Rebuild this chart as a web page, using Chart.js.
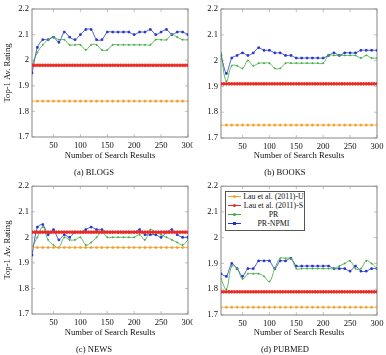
<!DOCTYPE html>
<html>
<head>
<meta charset="utf-8">
<script src="https://cdn.jsdelivr.net/npm/chart.js@4/dist/chart.umd.min.js"></script>
<style>
  html, body { margin:0; padding:0; background:#fff; }
  #wrap { position:relative; width:386px; height:355px; overflow:hidden; background:#fff; }
  .panel { position:absolute; overflow:hidden; }
  .panel canvas { position:absolute; left:0; top:0; }
  #legend { position:absolute; left:225px; top:191px; width:80px; height:40px; border:0.8px solid #555;
            background:#fff; font-family:"Liberation Serif", serif; font-size:7.9px; color:#111; box-sizing:border-box; }
  .lrow { position:absolute; left:0; width:100%; height:9px; line-height:9px; }
  .lline { position:absolute; left:1.5px; width:13px; top:4px; height:0; border-top:1px solid; }
  .ldot { position:absolute; left:6.5px; top:3px; width:3px; height:3px; border-radius:50%; }
  .ltext { position:absolute; left:17px; right:0px; text-align:center; white-space:nowrap; }
</style>
</head>
<body>
<div id="wrap">
  <div class="panel" style="left:0;top:0;width:193px;height:178px"><canvas id="cA" width="210" height="179"></canvas></div>
  <div class="panel" style="left:193px;top:0;width:193px;height:178px"><canvas id="cB" width="210" height="179"></canvas></div>
  <div class="panel" style="left:0;top:178px;width:193px;height:177px"><canvas id="cC" width="210" height="178"></canvas></div>
  <div class="panel" style="left:193px;top:178px;width:193px;height:177px"><canvas id="cD" width="210" height="178"></canvas></div>
  <div id="legend"></div>
</div>
<script>
// ---------------- DATA ----------------
const seriesNames = ["Lau et al. (2011)-U", "Lau et al. (2011)-S", "PR", "PR-NPMI"];
const xTicks = [50, 100, 150, 200, 250, 300];
const yTicks = [1.7, 1.8, 1.9, 2, 2.1, 2.2];
const yTickLabels = ["1.7", "1.8", "1.9", "2", "2.1", "2.2"];
const xTitle = "Number of Search Results";
const yTitle = "Top-1 Av. Rating";
const captions = ["(a) BLOGS", "(b) BOOKS", "(c) NEWS", "(d) PUBMED"];

const xs = [10,20,30,40,50,60,70,80,90,100,110,120,130,140,150,160,170,180,190,200,210,220,230,240,250,260,270,280,290,300];
const xsFine = [10,15,20,25,30,35,40,45,50,55,60,65,70,75,80,85,90,95,100,105,110,115,120,125,130,135,140,145,150,155,160,165,170,175,180,185,190,195,200,205,210,215,220,225,230,235,240,245,250,255,260,265,270,275,280,285,290,295,300];

// BLOGS
const blogsU = [1.84,1.84,1.84,1.84,1.84,1.84,1.84,1.84,1.84,1.84,1.84,1.84,1.84,1.84,1.84,1.84,1.84,1.84,1.84,1.84,1.84,1.84,1.84,1.84,1.84,1.84,1.84,1.84,1.84,1.84];
const blogsS = [1.98,1.98,1.98,1.98,1.98,1.98,1.98,1.98,1.98,1.98,
                1.98,1.98,1.98,1.98,1.98,1.98,1.98,1.98,1.98,1.98,
                1.98,1.98,1.98,1.98,1.98,1.98,1.98,1.98,1.98,1.98,
                1.98,1.98,1.98,1.98,1.98,1.98,1.98,1.98,1.98,1.98,
                1.98,1.98,1.98,1.98,1.98,1.98,1.98,1.98,1.98,1.98,
                1.98,1.98,1.98,1.98,1.98,1.98,1.98,1.98,1.98];
const blogsPR = [1.98,2.03,2.06,2.08,2.09,2.08,2.08,2.06,2.06,2.06,2.04,2.06,2.06,2.04,2.04,2.06,2.06,2.06,2.06,2.06,2.06,2.06,2.06,2.08,2.08,2.08,2.10,2.09,2.08,2.08];
const blogsNPMI = [1.95,2.05,2.08,2.08,2.09,2.07,2.11,2.09,2.08,2.10,2.12,2.12,2.08,2.08,2.11,2.11,2.11,2.11,2.11,2.10,2.11,2.11,2.12,2.10,2.11,2.12,2.10,2.11,2.11,2.10];

// BOOKS
const booksU = [1.75,1.75,1.75,1.75,1.75,1.75,1.75,1.75,1.75,1.75,1.75,1.75,1.75,1.75,1.75,1.75,1.75,1.75,1.75,1.75,1.75,1.75,1.75,1.75,1.75,1.75,1.75,1.75,1.75,1.75];
const booksS = [1.91,1.91,1.91,1.91,1.91,1.91,1.91,1.91,1.91,1.91,
                1.91,1.91,1.91,1.91,1.91,1.91,1.91,1.91,1.91,1.91,
                1.91,1.91,1.91,1.91,1.91,1.91,1.91,1.91,1.91,1.91,
                1.91,1.91,1.91,1.91,1.91,1.91,1.91,1.91,1.91,1.91,
                1.91,1.91,1.91,1.91,1.91,1.91,1.91,1.91,1.91,1.91,
                1.91,1.91,1.91,1.91,1.91,1.91,1.91,1.91,1.91];
const booksPR = [2.03,1.92,1.98,1.98,1.97,2.00,1.98,1.99,1.99,1.99,1.97,1.97,1.99,1.99,1.99,1.99,1.99,1.99,1.99,1.99,2.02,2.02,2.02,2.02,2.02,2.02,2.01,2.02,2.01,2.01];
const booksNPMI = [2.02,1.95,2.01,2.02,2.03,2.02,2.03,2.05,2.04,2.04,2.03,2.03,2.02,2.02,2.01,2.01,2.01,2.01,2.01,2.01,2.02,2.03,2.02,2.03,2.03,2.03,2.04,2.04,2.04,2.04];

// NEWS
const newsU = [1.96,1.96,1.96,1.96,1.96,1.96,1.96,1.96,1.96,1.96,1.96,1.96,1.96,1.96,1.96,1.96,1.96,1.96,1.96,1.96,1.96,1.96,1.96,1.96,1.96,1.96,1.96,1.96,1.96,1.96];
const newsS = [2.02,2.02,2.02,2.02,2.02,2.02,2.02,2.02,2.02,2.02,
               2.02,2.02,2.02,2.02,2.02,2.02,2.02,2.02,2.02,2.02,
               2.02,2.02,2.02,2.02,2.02,2.02,2.02,2.02,2.02,2.02,
               2.02,2.02,2.02,2.02,2.02,2.02,2.02,2.02,2.02,2.02,
               2.02,2.02,2.02,2.02,2.02,2.02,2.02,2.02,2.02,2.02,
               2.02,2.02,2.02,2.02,2.02,2.02,2.02,2.02,2.02];
const newsPR = [1.96,2.00,2.04,1.99,1.97,1.96,2.00,1.99,1.99,2.00,1.97,1.98,2.00,2.02,2.00,2.00,2.00,2.00,2.00,2.00,2.01,1.99,2.03,2.02,2.01,2.00,1.99,1.98,1.97,1.99];
const newsNPMI = [1.93,2.04,2.05,2.01,2.03,1.99,2.01,2.00,2.02,2.02,2.03,2.04,2.03,2.03,2.02,2.02,2.02,2.02,2.02,2.02,2.03,2.01,2.01,2.01,2.00,2.02,2.03,2.01,2.00,2.00];

// PUBMED
const pubmedU = [1.73,1.73,1.73,1.73,1.73,1.73,1.73,1.73,1.73,1.73,1.73,1.73,1.73,1.73,1.73,1.73,1.73,1.73,1.73,1.73,1.73,1.73,1.73,1.73,1.73,1.73,1.73,1.73,1.73,1.73];
const pubmedS = [1.79,1.79,1.79,1.79,1.79,1.79,1.79,1.79,1.79,1.79,
                 1.79,1.79,1.79,1.79,1.79,1.79,1.79,1.79,1.79,1.79,
                 1.79,1.79,1.79,1.79,1.79,1.79,1.79,1.79,1.79,1.79,
                 1.79,1.79,1.79,1.79,1.79,1.79,1.79,1.79,1.79,1.79,
                 1.79,1.79,1.79,1.79,1.79,1.79,1.79,1.79,1.79,1.79,
                 1.79,1.79,1.79,1.79,1.79,1.79,1.79,1.79,1.79];
const pubmedPR = [1.84,1.80,1.89,1.88,1.84,1.86,1.86,1.86,1.85,1.83,1.88,1.92,1.92,1.92,1.88,1.88,1.88,1.88,1.88,1.88,1.88,1.88,1.89,1.90,1.91,1.88,1.88,1.91,1.90,1.88];
const pubmedNPMI = [1.86,1.85,1.90,1.88,1.85,1.88,1.88,1.91,1.91,1.91,1.88,1.91,1.91,1.92,1.89,1.89,1.89,1.89,1.89,1.89,1.89,1.88,1.88,1.88,1.87,1.89,1.87,1.87,1.88,1.88];

// ---------------- STYLE ----------------
const FONT = "'Liberation Serif', 'Times New Roman', serif";
const colors = { U: "#f59e2a", S: "#ea2a22", PR: "#3faa3f", NPMI: "#2233cc" };

const frameAndTicks = {
  id: "frameAndTicks",
  beforeDatasetsDraw(chart) {
    const { ctx, chartArea: a, scales: { x, y } } = chart;
    ctx.save();
    ctx.strokeStyle = "#666";
    ctx.lineWidth = 0.8;
    ctx.strokeRect(a.left, a.top, a.right - a.left, a.bottom - a.top);
    ctx.strokeStyle = "#999";
    ctx.lineWidth = 0.6;
    ctx.beginPath();
    x.ticks.forEach(t => {
      const px = x.getPixelForValue(t.value);
      ctx.moveTo(px, a.bottom); ctx.lineTo(px, a.bottom - 3);
      ctx.moveTo(px, a.top); ctx.lineTo(px, a.top + 3);
    });
    y.ticks.forEach(t => {
      const py = y.getPixelForValue(t.value);
      ctx.moveTo(a.left, py); ctx.lineTo(a.left + 3, py);
      ctx.moveTo(a.right, py); ctx.lineTo(a.right - 3, py);
    });
    ctx.stroke();
    ctx.restore();
  }
};

function pts(xv, yv) { return xv.map((v, i) => ({ x: v, y: yv[i] })); }

function makePanel(id, caption, u, s, pr, npmi, geo) {
  const canvas = document.getElementById(id);
  return new Chart(canvas, {
    type: "line",
    data: {
      datasets: [
        { label: seriesNames[0], data: pts(xs, u), borderColor: colors.U, backgroundColor: colors.U,
          borderWidth: 0.7, pointRadius: 1.1, pointStyle: "circle", tension: 0 },
        { label: seriesNames[1], data: pts(xsFine, s), borderColor: colors.S, backgroundColor: colors.S,
          borderWidth: 0.8, pointRadius: 1.4, pointStyle: "circle", tension: 0 },
        { label: seriesNames[2], data: pts(xs, pr), borderColor: colors.PR, backgroundColor: colors.PR,
          borderWidth: 0.8, pointRadius: 0.6, pointStyle: "circle", tension: 0.4 },
        { label: seriesNames[3], data: pts(xs, npmi), borderColor: colors.NPMI, backgroundColor: colors.NPMI,
          borderWidth: 0.8, pointRadius: 1.2, pointStyle: "rect", tension: 0.25 }
      ]
    },
    options: {
      responsive: false,
      animation: false,
      devicePixelRatio: 1,
      layout: { padding: { left: 0, right: geo.right, top: geo.top, bottom: 0 } },
      plugins: {
        legend: { display: false },
        tooltip: { enabled: false },
        title: { display: true, position: "bottom", text: caption, color: "#111",
                 font: { family: FONT, size: 8.6, weight: "normal" }, padding: { top: 0, bottom: 1 } }
      },
      scales: {
        x: {
          type: "linear", min: 10, max: 300,
          grid: { display: false, drawTicks: false },
          border: { display: false },
          afterBuildTicks: sc => { sc.ticks = xTicks.map(v => ({ value: v })); },
          afterFit: sc => { sc.height = geo.xh; },
          ticks: { color: "#111", font: { family: FONT, size: 8.6 }, padding: 4, maxRotation: 0, autoSkip: false },
          title: { display: true, text: xTitle, color: "#111", font: { family: FONT, size: 8.6 },
                   padding: { top: 0, bottom: 7 } }
        },
        y: {
          min: 1.7, max: 2.2,
          grid: { display: false, drawTicks: false },
          border: { display: false },
          afterBuildTicks: sc => { sc.ticks = yTicks.map(v => ({ value: v })); },
          afterFit: sc => { sc.width = geo.left; },
          ticks: { color: "#111", font: { family: FONT, size: 8.6 }, padding: 3, autoSkip: false,
                   callback: (v) => yTickLabels[yTicks.indexOf(v)] },
          title: { display: geo.ytitle, text: yTitle, color: "#111", font: { family: FONT, size: 8.6 },
                   padding: { top: 3, bottom: 0 } }
        }
      }
    },
    plugins: [frameAndTicks]
  });
}

makePanel("cA", captions[0], blogsU, blogsS, blogsPR, blogsNPMI, { left: 32, right: 22, top: 9, xh: 30.68, ytitle: true });
makePanel("cB", captions[1], booksU, booksS, booksPR, booksNPMI, { left: 28, right: 26, top: 9, xh: 29.68, ytitle: false });
makePanel("cC", captions[2], newsU, newsS, newsPR, newsNPMI, { left: 32, right: 22, top: 6, xh: 30.68, ytitle: true });
const chartD = makePanel("cD", captions[3], pubmedU, pubmedS, pubmedPR, pubmedNPMI, { left: 28, right: 26, top: 7, xh: 29.68, ytitle: false });

// HTML legend built from the chart's datasets
const legend = document.getElementById("legend");
chartD.data.datasets.forEach((ds, i) => {
  const row = document.createElement("div");
  row.className = "lrow";
  row.style.top = (-0.5 + i * 9.2) + "px";
  const line = document.createElement("span");
  line.className = "lline";
  line.style.borderColor = ds.borderColor;
  const dot = document.createElement("span");
  dot.className = "ldot";
  dot.style.background = ds.borderColor;
  if (ds.pointStyle === "rect") dot.style.borderRadius = "0";
  const txt = document.createElement("span");
  txt.className = "ltext";
  txt.textContent = ds.label;
  row.appendChild(line); row.appendChild(dot); row.appendChild(txt);
  legend.appendChild(row);
});
</script>
</body>
</html>
